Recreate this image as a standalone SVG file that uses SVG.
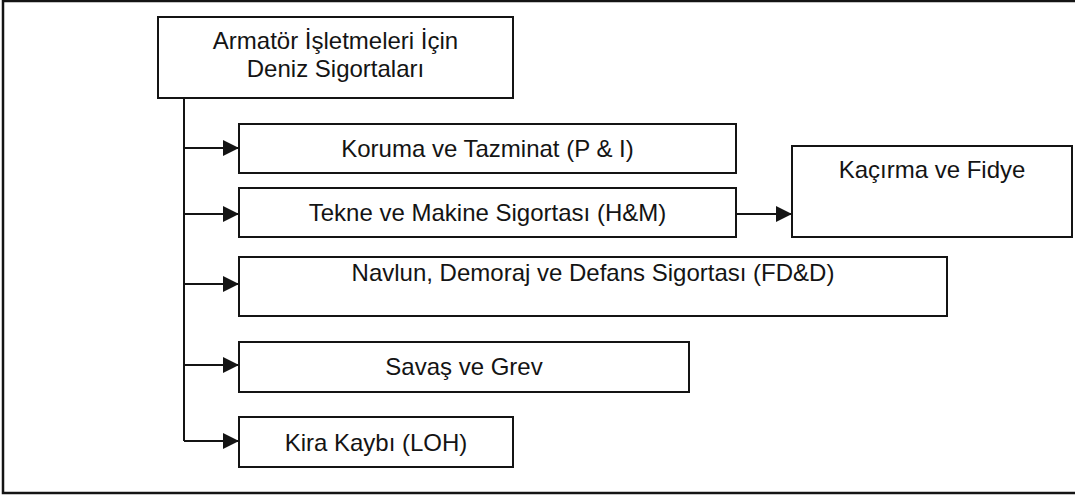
<svg xmlns="http://www.w3.org/2000/svg" width="1075" height="495" viewBox="0 0 1075 495">
  <style>
    .box { fill: #ffffff; stroke: #141414; stroke-width: 2; }
    .frame { fill: #ffffff; stroke: #141414; stroke-width: 2.5; }
    .lbl { font-family: "Liberation Sans", Arial, sans-serif; font-size: 24px; fill: #141414; text-anchor: middle; }
    .wire { fill: none; stroke: #141414; stroke-width: 2; }
  </style>
  <defs>
    <marker id="arrow" markerUnits="userSpaceOnUse" markerWidth="16" markerHeight="16" viewBox="0 0 16 16" refX="16" refY="8" orient="auto">
      <path d="M0,0 L16,8 L0,16 Z" fill="#141414"/>
    </marker>
  </defs>

  <!-- outer frame (right side runs past the canvas) -->
  <rect class="frame" x="3" y="1" width="1090" height="492"/>

  <!-- connectors -->
  <g id="connectors">
    <path class="wire" d="M184,98 V441"/>
    <path class="wire" d="M184,148 H239" marker-end="url(#arrow)"/>
    <path class="wire" d="M184,214 H239" marker-end="url(#arrow)"/>
    <path class="wire" d="M184,284 H239" marker-end="url(#arrow)"/>
    <path class="wire" d="M184,365 H239" marker-end="url(#arrow)"/>
    <path class="wire" d="M184,441 H239" marker-end="url(#arrow)"/>
    <path class="wire" d="M736,214 H792" marker-end="url(#arrow)"/>
  </g>

  <!-- root node -->
  <g id="root">
    <rect class="box" x="158" y="17" width="355" height="81"/>
    <text class="lbl" x="335.5" y="49">Armatör İşletmeleri İçin</text>
    <text class="lbl" x="335.5" y="77">Deniz Sigortaları</text>
  </g>

  <g id="pi">
    <rect class="box" x="239" y="124" width="497" height="49"/>
    <text class="lbl" x="487.5" y="157">Koruma ve Tazminat (P &amp; I)</text>
  </g>

  <g id="hm">
    <rect class="box" x="239" y="188" width="497" height="49"/>
    <text class="lbl" x="487.5" y="221">Tekne ve Makine Sigortası (H&amp;M)</text>
  </g>

  <g id="kr">
    <rect class="box" x="792" y="146" width="280" height="91"/>
    <text class="lbl" x="932" y="178">Kaçırma ve Fidye</text>
  </g>

  <g id="fdd">
    <rect class="box" x="239" y="257" width="708" height="59"/>
    <text class="lbl" x="593" y="281">Navlun, Demoraj ve Defans Sigortası (FD&amp;D)</text>
  </g>

  <g id="ws">
    <rect class="box" x="239" y="342" width="450" height="50"/>
    <text class="lbl" x="464" y="375">Savaş ve Grev</text>
  </g>

  <g id="loh">
    <rect class="box" x="239" y="417" width="274" height="50"/>
    <text class="lbl" x="376" y="451">Kira Kaybı (LOH)</text>
  </g>
</svg>
